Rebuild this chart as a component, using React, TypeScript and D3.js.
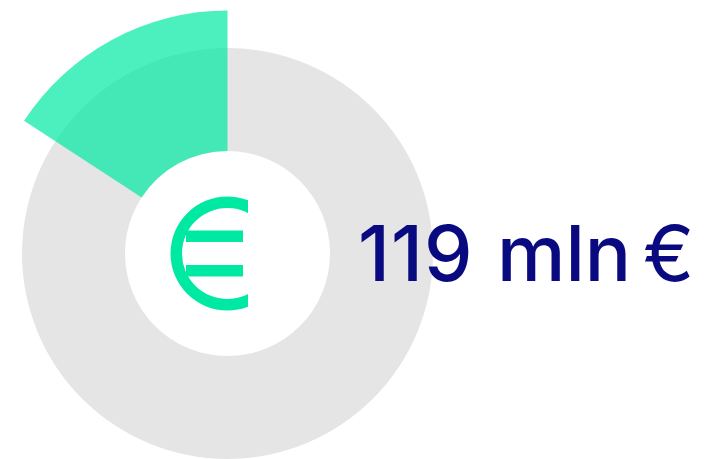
import React from "react";
import * as d3 from "d3";

const w = 706;
const h = 459;

// amount in mln €, and the whole it is taken from (estimated from the slice angle)
const amount = [119];
const total = [753];
const label = ["119", "mln", "€"];

const cx = 227.5;
const cy = 253.5;

const radius = d3.scaleLinear().domain([0, 1]).range([0, 205.5]);
const angle = d3.scaleLinear().domain([0, total[0]]).range([0, 2 * Math.PI]);

const arc = d3.arc<any>();

export default function App() {
  const ringPath = arc({
    innerRadius: radius(0.4988),
    outerRadius: radius(1),
    startAngle: 0,
    endAngle: 2 * Math.PI
  });
  const slicePath = arc({
    innerRadius: radius(0.4988),
    outerRadius: radius(1.182),
    startAngle: -angle(amount[0]),
    endAngle: 0
  });
  // euro sign: whole ring, cut off straight on the right by the clip
  const euroPath = arc({
    innerRadius: 45.5,
    outerRadius: 57,
    startAngle: 0,
    endAngle: 2 * Math.PI
  });

  return (
    <svg
      width={w}
      height={h}
      style={{ position: "absolute", left: 0, top: 0 }}
    >
      <defs>
        <clipPath id="euroClip">
          <rect x={160} y={190} width={88} height={130} />
        </clipPath>
      </defs>
      <g transform={"translate(" + cx + "," + cy + ")"}>
        <path d={ringPath!} fill="#e5e5e5" />
        <path d={slicePath!} fill="#00e9a2" fillOpacity={0.7} />
      </g>
      <g clipPath="url(#euroClip)">
        <path
          d={euroPath!}
          transform={"translate(" + cx + "," + cy + ")"}
          fill="#00e9a2"
        />
      </g>
      <rect x={186} y={230.5} width={57} height={11.5} fill="#00e9a2" />
      <rect x={186} y={265} width={57} height={11.5} fill="#00e9a2" />
      <g fontFamily="Inter" fontSize={77} fill="#0a0a80">
        <text x={358} y={281} fontWeight={500} letterSpacing={1}>
          {label[0]}
        </text>
        <text x={497} y={281} fontWeight={500}>
          {label[1]}
        </text>
        <text x={643} y={281} fontWeight={400}>
          {label[2]}
        </text>
      </g>
    </svg>
  );
}
